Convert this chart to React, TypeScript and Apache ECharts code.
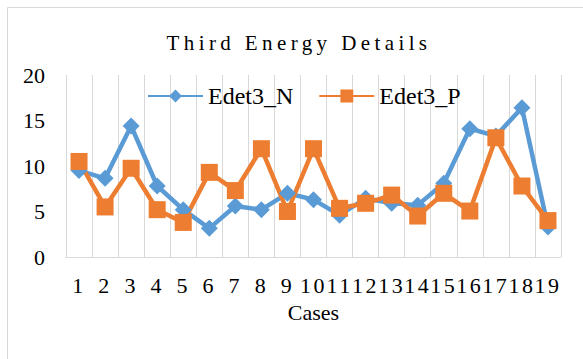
import React, { useEffect, useRef } from "react";
import * as echarts from "echarts";

const cases = ["1", "2", "3", "4", "5", "6", "7", "8", "9", "10", "11", "12", "13", "14", "15", "16", "17", "18", "19"];
const edet3N = [9.5, 8.65, 14.4, 7.8, 5.2, 3.15, 5.6, 5.2, 7.0, 6.3, 4.6, 6.45, 5.9, 5.7, 8.1, 14.1, 13.3, 16.4, 3.3];
const edet3P = [10.5, 5.5, 9.75, 5.2, 3.8, 9.3, 7.3, 11.9, 5.0, 11.9, 5.35, 5.9, 6.8, 4.5, 7.0, 5.05, 13.1, 7.8, 4.0];

const TITLE = "Third Energy Details";
const FONT = "Liberation Serif";
const BLUE = "#5B9BD5";
const ORANGE = "#ED7D31";
const GRID_GRAY = "#D9D9D9";

export default function App() {
  const ref = useRef<HTMLDivElement>(null);

  useEffect(() => {
    if (!ref.current) return;
    const chart = echarts.init(ref.current, undefined, { renderer: "svg" });

    chart.setOption({
      animation: false,
      backgroundColor: "#fff",
      textStyle: { fontFamily: FONT },
      graphic: [
        {
          type: "rect",
          z: -10,
          silent: true,
          shape: { x: 7.5, y: 7.5, width: 620, height: 420 },
          style: { fill: "none", stroke: GRID_GRAY, lineWidth: 1 },
        },
        {
          type: "text",
          x: 299,
          y: 43,
          style: {
            text: TITLE,
            fontFamily: FONT,
            fontSize: 21,
            fill: "#000",
            align: "center",
            verticalAlign: "middle",
          },
        },
      ],
      legend: {
        left: 147,
        top: 84,
        padding: 0,
        itemWidth: 55,
        itemHeight: 16,
        itemGap: 25,
        textStyle: { fontFamily: FONT, fontSize: 24, color: "#000", lineHeight: 24 },
        data: ["Edet3_N", "Edet3_P"],
      },
      grid: { left: 66, right: 22, top: 75, bottom: 102, containLabel: false },
      xAxis: {
        type: "category",
        data: cases,
        boundaryGap: true,
        name: "Cases",
        nameLocation: "middle",
        nameGap: 44,
        nameTextStyle: { fontFamily: FONT, fontSize: 22, color: "#000" },
        axisLine: { show: true, lineStyle: { color: GRID_GRAY, width: 1 } },
        axisTick: { show: false },
        axisLabel: { interval: 0, margin: 17, fontFamily: FONT, fontSize: 22, color: "#000" },
        splitLine: { show: true, interval: 0, lineStyle: { color: GRID_GRAY, width: 1 } },
      },
      yAxis: {
        type: "value",
        min: 0,
        max: 20,
        interval: 5,
        axisLine: { show: false },
        axisTick: { show: false },
        splitLine: { show: false },
        axisLabel: { margin: 21, fontFamily: FONT, fontSize: 22, color: "#000" },
      },
      series: [
        {
          name: "Edet3_N",
          type: "line",
          data: edet3N,
          symbol: "diamond",
          symbolSize: 17,
          showAllSymbol: true,
          lineStyle: { color: BLUE, width: 4.5 },
          itemStyle: { color: BLUE },
        },
        {
          name: "Edet3_P",
          type: "line",
          data: edet3P,
          symbol: "rect",
          symbolSize: 17,
          showAllSymbol: true,
          lineStyle: { color: ORANGE, width: 4.5 },
          itemStyle: { color: ORANGE },
        },
      ],
    });

    // Widen the tracking of the title and of the case numbers under the axis.
    const spaceTexts = () => {
      const root = ref.current;
      if (!root) return;
      const top = root.getBoundingClientRect().top;
      root.querySelectorAll("text").forEach((t) => {
        const el = t as SVGTextElement;
        const content = el.textContent ?? "";
        if (content === TITLE) {
          el.style.letterSpacing = "4.4px";
        } else if (cases.includes(content)) {
          const y = el.getBoundingClientRect().top - top;
          if (y > 265) el.style.letterSpacing = "2.5px";
        }
      });
    };
    chart.on("finished", spaceTexts);
    spaceTexts();
    const timer = window.setTimeout(spaceTexts, 50);

    return () => {
      window.clearTimeout(timer);
      chart.dispose();
    };
  }, []);

  return (
    <div
      ref={ref}
      style={{ position: "absolute", left: 0, top: 0, width: 583, height: 359 }}
    />
  );
}
